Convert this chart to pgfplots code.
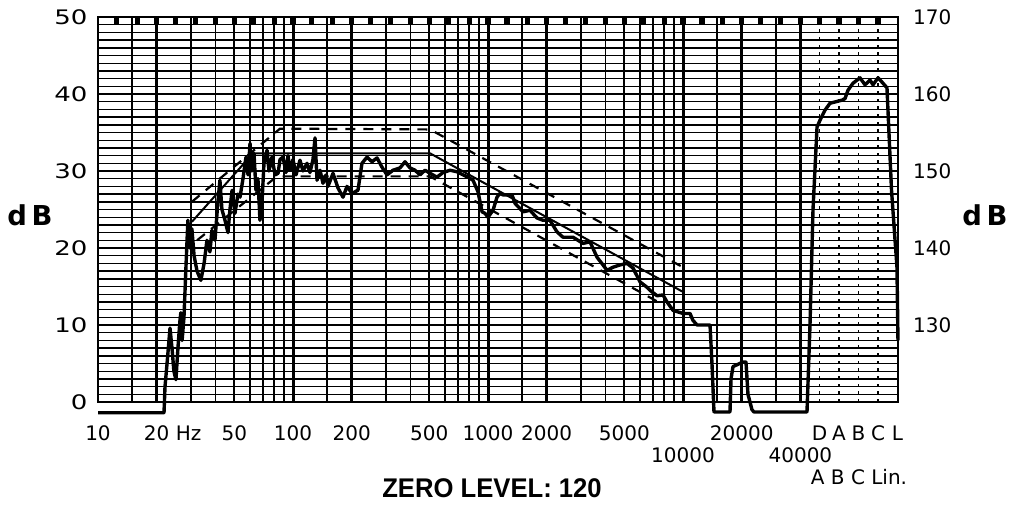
\documentclass[border=0pt]{standalone}
\usepackage{fontspec}
\setmainfont{DejaVu Sans}
\newfontfamily\libsans{Liberation Sans}
\usepackage{pgfplots}
\pgfplotsset{compat=1.18}
\pgfdeclareplotmark{tab}{\pgfpathrectangle{\pgfqpoint{-1.3pt}{-3.6pt}}{\pgfqpoint{2.6pt}{3.6pt}}\pgfusepathqfill}
\newcommand{\wide}[1]{\scalebox{1.3}[1]{#1}}
\begin{document}
\begin{tikzpicture}
\useasboundingbox (-49pt,-53pt) rectangle (456pt,201pt);
\begin{axis}[
  scale only axis, width=400pt, height=192.5pt,
  xmode=log, xmin=10, xmax=126650, ymin=0, ymax=50,
  clip=false,
  axis line style={line width=1.4pt},
  major tick length=0pt, minor tick length=0pt,
  xtick={10,20,50,100,200,500,1000,2000,5000,20000,50119,63096,79433,100000,125893},
  xticklabels={10,20\rlap{\ Hz},50,100,200,500,1000,2000,5000,20000,D,A,B,C,L},
  extra x ticks={10000,40000},
  extra x tick labels={10000,40000},
  extra x tick style={xticklabel style={yshift=-11pt}},
  xticklabel style={anchor=center, yshift=-15.5pt, font=\fontsize{10}{12}\selectfont},
  ytick={0,10,20,30,40,50},
  yticklabels={\wide{0},\wide{10},\wide{20},\wide{30},\wide{40},\wide{50}},
  yticklabel style={font=\fontsize{10}{12}\selectfont, xshift=-1.7pt},
  minor y tick num=9,
  ymajorgrids, yminorgrids,
  major grid style={line width=0.75pt, black},
  minor grid style={line width=0.7pt, black},
]
% vertical grid lines of the log paper
\pgfplotsinvokeforeach{15,30,40,50,60,70,80,90,150,300,400,500,600,700,800,900,1500,3000,4000,5000,6000,7000,8000,9000,15000,30000}{
  \draw[line width=0.9pt] (axis cs:#1,0) -- (axis cs:#1,50);
}
\pgfplotsinvokeforeach{20,100,200,1000,2000,10000,20000,40000}{
  \draw[line width=1.5pt] (axis cs:#1,0) -- (axis cs:#1,50);
}
\pgfplotsinvokeforeach{50119,63096,79433,100000}{
  \draw[line width=0.9pt, dash pattern=on 1.5pt off 2.35pt] (axis cs:#1,0) -- (axis cs:#1,50);
}
% third-octave marks along the top
\addplot[only marks, mark=tab, mark options={fill=black, draw=none}] coordinates {
(12.5,50)(16,50)(20,50)(25,50)(31.5,50)(40,50)(50,50)(63,50)(80,50)(100,50)
(125,50)(160,50)(200,50)(250,50)(315,50)(400,50)(500,50)(630,50)(800,50)(1000,50)
(1250,50)(1600,50)(2000,50)(2500,50)(3150,50)(4000,50)(5000,50)(6300,50)(8000,50)(10000,50)
(12500,50)(16000,50)(20000,50)(25000,50)(31500,50)(40000,50)(50119,50)(63096,50)(79433,50)(100000,50)};
% tolerance curves
\addplot[line width=1.1pt, dash pattern=on 5pt off 4pt] coordinates {(30.3,26.0)(85.8,35.5)(504,35.4)(10000,17.5)};
\addplot[line width=1pt] coordinates {(30.3,23.4)(62.4,32.3)(504,32.3)(10000,14.3)};
\addplot[line width=1.1pt, dash pattern=on 5pt off 4pt] coordinates {(32.2,21.0)(82.8,29.3)(504,29.3)(8087,12.5)};
% measured spectrum
\addplot[line width=1.7pt, line join=round] coordinates {
(10,-1.4)(21.8,-1.4)(22.06,2)(22.6,5)(23.4,9.6)(23.96,7)(24.5,4)(25.1,2.9)(25.7,7)(26.3,10.5)(26.6,11.6)(27.0,8)(27.6,11)(28.3,18)(28.9,23.6)(29.6,20)(30.3,22.5)(31.1,19)(32.2,17)(33.7,15.8)(35.0,18)(36.2,21)(37.5,19.5)(38.4,22.3)(39.8,21)(41.2,26)(42.2,28.8)(43.2,25)(44.8,23.6)(46.4,22)(47.5,25)(48.7,27.5)(50.4,24.5)(52.2,27)(53.5,26.6)(55.4,29)(57.4,31.8)(58.8,29.5)(60.2,33.6)(61.6,30)(63.1,32.3)(64.6,27.5)(66.1,29)(67.7,23.6)(69.3,25.8)(71.0,31)(73.6,32.7)(75.3,30)(78.0,31.8)(80.9,29.5)(83.8,29.7)(85.8,31.5)(88.9,31.8)(92.1,29.8)(94.3,32)(96.5,30.1)(100,31.5)(103.6,29.5)(108.6,31.4)(112.5,30)(118.0,31)(122.2,29.8)(126.6,31.5)(129.7,34.3)(132.8,28.8)(137.6,30.1)(142.5,28.4)(147.7,29.5)(151.2,28)(160.4,29.7)(170.1,27.8)(180.5,26.6)(189.2,28)(200.6,27.1)(215.4,27.5)(225.8,31)(239.6,31.8)(254.2,31.2)(269.7,31.7)(286.0,30.5)(303.4,29.5)(325.7,30.1)(353.8,30.4)(375.3,31.2)(398.1,30.4)(422.3,30.1)(448.0,29.5)(475.3,30.1)(504.2,29.7)(547.6,29.2)(587.8,29.8)(638.5,30.1)(693.5,29.9)(744.5,29.5)(789.8,29.2)(837.9,28.8)(888.9,27.3)(932.1,24.7)(965.2,24.5)(1000,24)(1061,24.9)(1112,26.6)(1152,27.1)(1194,26.9)(1328,26.9)(1376,25.8)(1512,24.7)(1642,24.9)(1784,23.9)(1915,23.6)(2079,23.6)(2258,22.1)(2424,21.4)(2729,21.4)(3070,20.6)(3336,20.8)(3624,18.8)(3888,17.8)(4076,17.1)(4375,17.5)(4753,17.8)(5162,18)(5541,17.4)(6019,15.6)(6538,14.9)(6774,14.5)(7357,13.8)(7898,13.9)(8280,13)(8888,11.9)(10000,11.5)(10860,11.5)(11250,10.6)(11800,10)(13760,10)(14080,5)(14420,-1.3)(17420,-1.3)(17630,3)(18050,4.6)(20320,5.2)(21040,5.2)(21540,1)(22580,-1)(23120,-1.3)(43240,-1.3)(44800,10)(46420,25)(48680,35.7)(50420,36.6)(53480,37.9)(56740,38.8)(65380,39.2)(67740,39.4)(70200,40.5)(74460,41.4)(80870,42.1)(85770,41.2)(91000,41.8)(94280,41.2)(100000,42.1)(106100,41.4)(111200,40.8)(117300,27.5)(125100,17.5)(126600,8)};
\end{axis}
\begin{axis}[
  scale only axis, width=400pt, height=192.5pt,
  xmode=log, xmin=10, xmax=126650, ymin=120, ymax=170,
  axis y line*=right, axis x line=none,
  axis line style={line width=1.4pt},
  major tick length=0pt, minor tick length=0pt,
  ytick={130,140,150,160,170},
  yticklabels={130,140,150,160,170},
  yticklabel style={font=\fontsize{10}{12}\selectfont, xshift=4pt},
]
\end{axis}
\node[font=\bfseries\fontsize{13.7}{16}\selectfont] at (-34pt,93.5pt) {d\,B};
\node[font=\bfseries\fontsize{13.7}{16}\selectfont] at (443.5pt,93.5pt) {d\,B};
\node[font=\libsans\bfseries\fontsize{13.5}{16}\selectfont] at (197pt,-43pt) {\scalebox{0.95}[1]{ZERO LEVEL: 120}};
\node[font=\fontsize{10}{12}\selectfont] at (380.5pt,-37.75pt) {A B C Lin.};
\end{tikzpicture}
\end{document}
